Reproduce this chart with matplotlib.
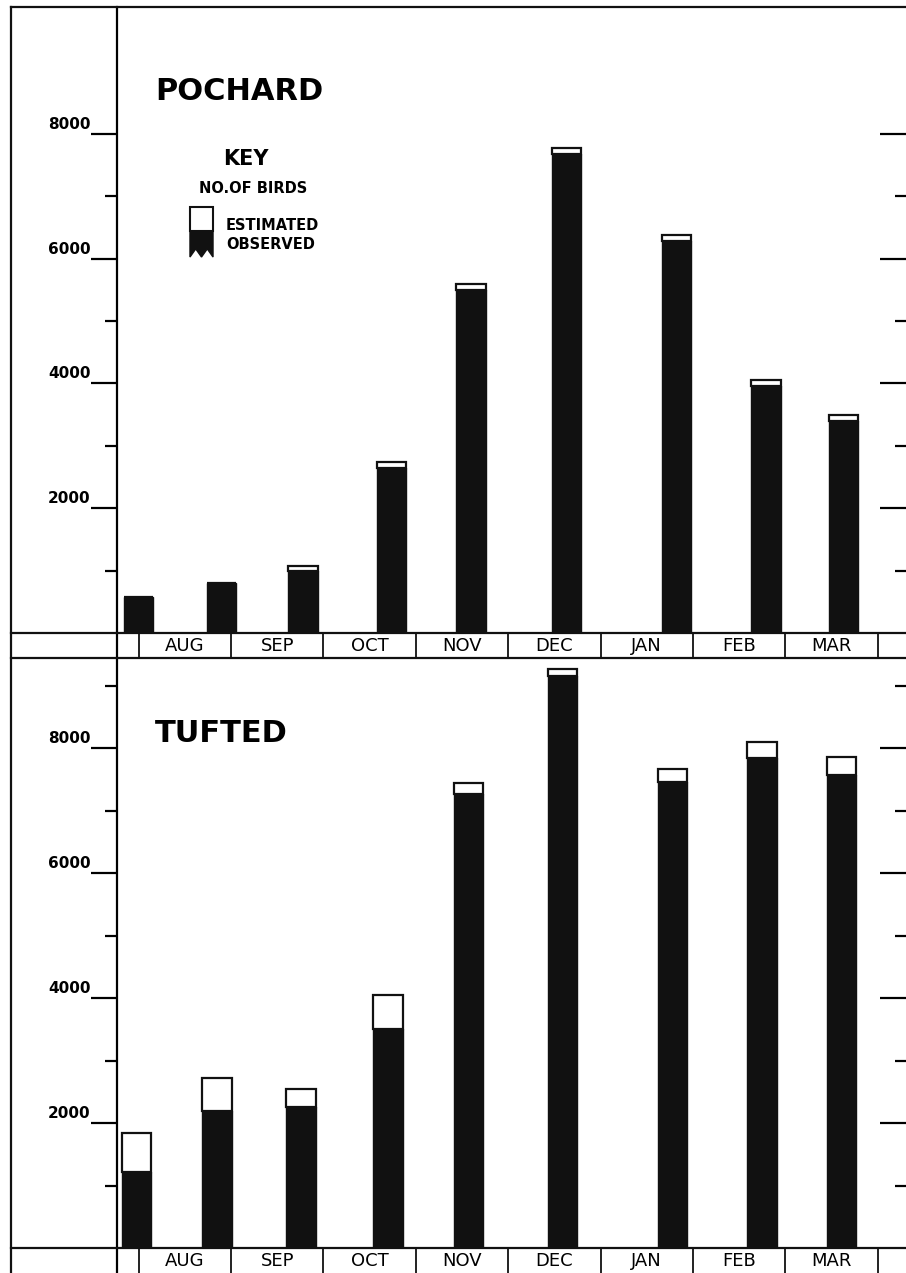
import matplotlib
matplotlib.use('Agg')
import matplotlib.pyplot as plt
from matplotlib.patches import Rectangle, Polygon
from matplotlib.lines import Line2D
from matplotlib.transforms import ScaledTranslation

plt.rcParams['font.family'] = ['DejaVu Sans']

# data, x in months from 1 Aug
months = ['AUG', 'SEP', 'OCT', 'NOV', 'DEC', 'JAN', 'FEB', 'MAR']

pochard_pos = [0.0, 0.90, 1.78, 2.74, 3.60, 4.63, 5.82, 6.79, 7.63]
pochard_observed = [580, 800, 990, 2650, 5500, 7680, 6290, 3960, 3400]
pochard_total = [580, 800, 1075, 2740, 5590, 7770, 6380, 4050, 3490]

tufted_pos = [-0.02, 0.85, 1.76, 2.70, 3.57, 4.59, 5.78, 6.75, 7.61]
tufted_observed = [1215, 2190, 2255, 3505, 7265, 9150, 7455, 7840, 7570]
tufted_total = [1840, 2720, 2545, 4050, 7440, 9265, 7665, 8095, 7855]

major_ticks = [2000, 4000, 6000, 8000]

W, H = 906, 1273
fig = plt.figure(figsize=(W / 100, H / 100), dpi=100)
fig.patch.set_facecolor('white')


def px_rect(l, t, r, b):
    return [l / W, 1 - b / H, (r - l) / W, (b - t) / H]


XLIM = (-0.233, 8.306)
BAR_W = 0.32
INK = '#111111'


def draw_panel(ax, pos, obs, tot, ymax, minor, name, name_y):
    est = [t - o for t, o in zip(tot, obs)]
    ax.bar(pos, obs, width=BAR_W, color=INK, edgecolor=INK, linewidth=1.0)
    ax.bar(pos, est, bottom=obs, width=BAR_W, color='white',
           edgecolor=INK, linewidth=1.6)
    ax.set_xlim(*XLIM)
    ax.set_ylim(0, ymax)
    ax.set_xticks([])
    for s in ['top', 'right']:
        ax.spines[s].set_visible(False)
    ax.spines['left'].set_linewidth(1.6)
    ax.spines['bottom'].set_linewidth(2.0)
    ax.set_yticks(major_ticks)
    ax.set_yticks(minor, minor=True)
    ax.set_yticklabels([str(v) for v in major_ticks])
    ax.tick_params(axis='y', which='major', direction='out', length=19,
                   width=1.6, pad=0, labelsize=11, left=True, right=True,
                   labelright=False)
    ax.tick_params(axis='y', which='minor', direction='out', length=8.5,
                   width=1.6, left=True, right=True)
    for lab in ax.get_yticklabels():
        lab.set_fontweight('bold')
        lab.set_transform(lab.get_transform() +
                          ScaledTranslation(0, 0.11, fig.dpi_scale_trans))
    # right-hand ticks point inwards
    for t in ax.yaxis.get_major_ticks():
        t.tick2line.set_marker(matplotlib.lines.TICKLEFT)
        t.tick2line.set_markersize(19)
    for t in ax.yaxis.get_minor_ticks():
        t.tick2line.set_marker(matplotlib.lines.TICKLEFT)
        t.tick2line.set_markersize(8)
    ax.text(0.048, name_y, name, transform=ax.transAxes, fontsize=22,
            fontweight='bold', ha='left', va='baseline')


def draw_strip(ax):
    ax.set_xlim(*XLIM)
    ax.set_ylim(0, 1)
    ax.set_xticks([])
    ax.set_yticks([])
    for s in ['top', 'right', 'bottom']:
        ax.spines[s].set_visible(False)
    ax.spines['left'].set_linewidth(1.6)
    for m in range(len(months) + 1):
        ax.axvline(m, color=INK, lw=1.3)
    for m, lab in enumerate(months):
        ax.text(m + 0.5, 0.47, lab, ha='center', va='center', fontsize=13)


ax1 = fig.add_axes(px_rect(117, 7, 906, 633))
draw_panel(ax1, pochard_pos, pochard_observed, pochard_total,
           (633 - 7) / 62.4 * 1000, [1000, 3000, 5000, 7000],
           'POCHARD', 0.851)
s1 = fig.add_axes(px_rect(117, 633, 906, 658))
draw_strip(s1)

ax2 = fig.add_axes(px_rect(117, 658, 906, 1248))
draw_panel(ax2, tufted_pos, tufted_observed, tufted_total,
           (1248 - 658) / 62.5 * 1000, [1000, 3000, 5000, 7000, 9000],
           'TUFTED', 0.858)
s2 = fig.add_axes(px_rect(117, 1248, 906, 1273))
draw_strip(s2)

# key
tr = ax1.transAxes
x0, x1 = 0.0925, 0.1217
y_top, y_mid, y_bot = 0.6805, 0.6422, 0.6006
tooth = 0.013
ax1.add_patch(Rectangle((x0, y_mid), x1 - x0, y_top - y_mid, transform=tr,
                        facecolor='white', edgecolor=INK, lw=1.5))
xs = [x0, x1, x1, x1 - (x1 - x0) * 0.25, x0 + (x1 - x0) * 0.5,
      x0 + (x1 - x0) * 0.25, x0]
ys = [y_mid, y_mid, y_bot, y_bot + tooth, y_bot, y_bot + tooth, y_bot]
ax1.add_patch(Polygon(list(zip(xs, ys)), closed=True, transform=tr,
                      facecolor=INK, edgecolor=INK, lw=1))
ax1.text(0.1635, 0.7476, 'KEY', transform=tr, ha='center', va='baseline',
         fontsize=15, fontweight='bold')
ax1.text(0.1724, 0.7029, 'NO.OF BIRDS', transform=tr, ha='center',
         va='baseline', fontsize=10.5, fontweight='bold')
ax1.text(0.138, 0.6438, 'ESTIMATED', transform=tr, ha='left', va='baseline',
         fontsize=10.5, fontweight='bold')
ax1.text(0.138, 0.6134, 'OBSERVED', transform=tr, ha='left', va='baseline',
         fontsize=10.5, fontweight='bold')

# outer frame lines
for y in [7, 633, 658, 1248]:
    fig.add_artist(Line2D([11 / W, 1], [1 - y / H, 1 - y / H],
                          transform=fig.transFigure, color=INK, lw=1.6))
fig.add_artist(Line2D([11 / W, 11 / W], [0, 1 - 7 / H],
                      transform=fig.transFigure, color=INK, lw=1.6))

fig.savefig('out.png', dpi=100, facecolor='white')
